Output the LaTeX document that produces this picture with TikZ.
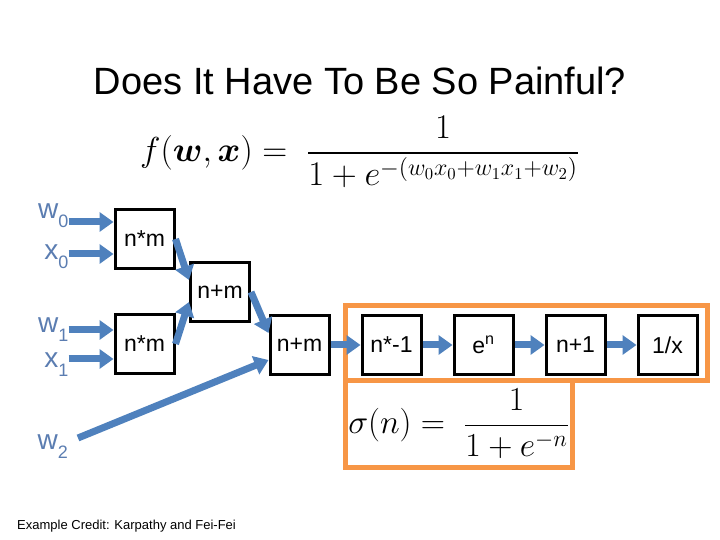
\documentclass[tikz,border=0pt]{standalone}
\usepackage{amsmath}
\usepackage{graphicx}
\usepackage{fontspec}
\setmainfont{Liberation Sans}
\usetikzlibrary{arrows.meta,positioning}
\definecolor{flowblue}{HTML}{4F81BD}
\definecolor{labblue}{HTML}{5B7DB1}
\definecolor{grporange}{HTML}{F79646}
\newcommand{\sublab}[2]{#1\raisebox{-9pt}{\fontsize{18}{18}\selectfont #2}}

\begin{document}
\begin{tikzpicture}[x=1pt,y=1pt,node distance=30pt,
op/.style={draw,line width=3pt,minimum width=59pt,minimum height=59pt,inner sep=0pt,font=\fontsize{23}{23}\selectfont},
lbl/.style={text=labblue,inner sep=0pt,anchor=base east,font=\fontsize{28}{28}\selectfont},
flow/.style={draw=flowblue,line width=7pt,-{Triangle[length=14pt,width=19pt]}},
grp/.style={draw=grporange,line width=5pt,outer sep=0pt,inner sep=0pt}]
\useasboundingbox (0,0) rectangle (720,540);
\node[font=\fontsize{38}{38}\selectfont,anchor=base] (title) at (360,445) {Does It Have To Be So Painful?};
\node[font=\fontsize{20}{24}\selectfont] (fw) at (360,388) {\scalebox{1.67}{$f(\boldsymbol{w},\boldsymbol{x}) =\ \dfrac{1}{1+e^{-(w_0x_0+w_1x_1+w_2)}}$}};
\node[op] (m1) at (144.5,301) {n*m};
\node[op] (a1) at (220,248) {n+m};
\node[op] (m2) at (144.5,196) {n*m};
\node[op] (a2) at (299.5,195) {n+m};
\node[op,right=of a2] (neg) {n*-1};
\node[op,right=of neg] (ex) {e\textsuperscript{n}};
\node[op,right=of ex] (inc) {n+1};
\node[op,right=of inc] (inv) {1/x};
\node[grp,minimum width=362,minimum height=75] (grpbox) at (526.5,197) {};
\node[grp,anchor=north west,minimum width=227,minimum height=87,font=\fontsize{20}{24}\selectfont] (sig) at (grpbox.south west) {\scalebox{1.62}{$\sigma(n) =\ \dfrac{1}{1+e^{-n}}$}};
\node[lbl] (w0) at ([xshift=-45,yshift=20]m1.west) {\sublab{w}{0}};
\node[lbl] (x0) at ([xshift=-45,yshift=-21]m1.west) {\sublab{x}{0}};
\node[lbl] (w1) at ([xshift=-45,yshift=11]m2.west) {\sublab{w}{1}};
\node[lbl] (x1) at ([xshift=-45,yshift=-24]m2.west) {\sublab{x}{1}};
\node[lbl] (w2) at (68,90) {\sublab{w}{2}};
\draw[flow] ([yshift=-3]w0.base east) -- ([yshift=17]m1.west);
\draw[flow] ([yshift=6]x0.base east) -- ([yshift=-15]m1.west);
\draw[flow] ([yshift=3]w1.base east) -- ([yshift=14]m2.west);
\draw[flow] ([yshift=9]x1.base east) -- ([yshift=-15]m2.west);
\draw[flow] ([shift={(10,12)}]w2.base east) -- ([yshift=-15]a2.west);
\draw[flow] (m1.east) -- ([yshift=12]a1.west);
\draw[flow] (m2.east) -- ([yshift=-10]a1.west);
\draw[flow] (a1.east) -- ([yshift=12]a2.west);
\foreach \a/\b in {a2/neg,neg/ex,ex/inc,inc/inv}
  \draw[flow] (\a) -- (\b);
\node[anchor=base west,inner sep=0pt,font=\fontsize{13}{13}\selectfont] (credit) at (17,10) {Example Credit: Karpathy and Fei-Fei};
\end{tikzpicture}
\end{document}
